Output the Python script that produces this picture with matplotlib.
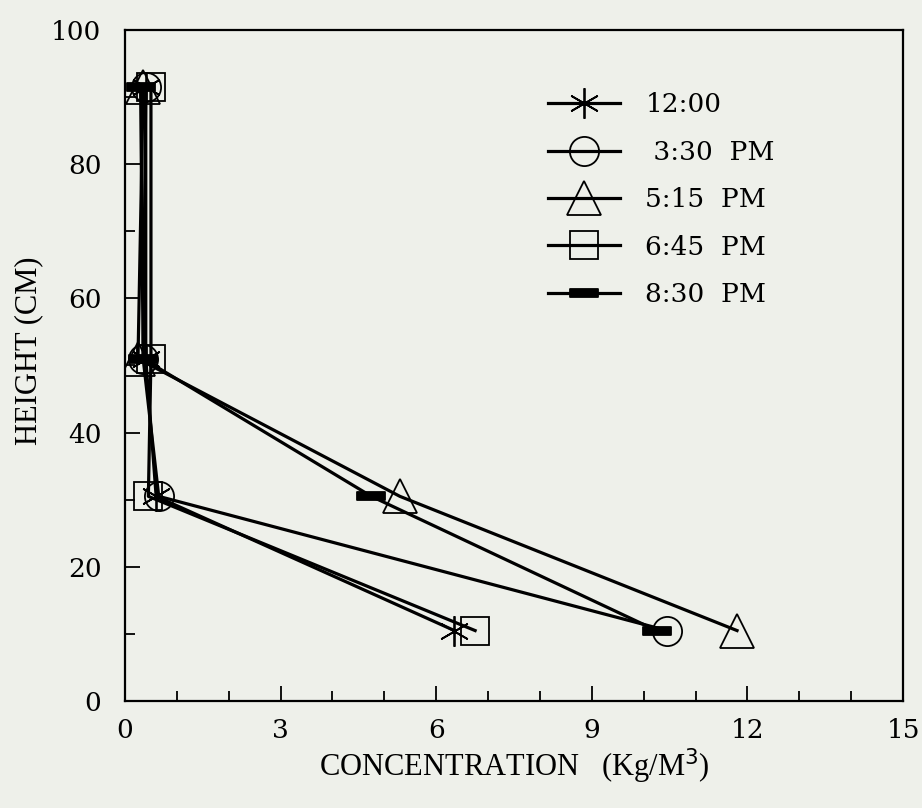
import numpy as np
import matplotlib
matplotlib.use("Agg")
import matplotlib.pyplot as plt
from matplotlib.path import Path

# heights of the sampling points (cm)
heights = [91.5, 51, 30.5, 10.5]

# concentration (Kg/M^3) at each height, per time of day
c_1200 = [0.40, 0.40, 0.60, 6.35]
c_0330 = [0.40, 0.35, 0.65, 10.45]
c_0515 = [0.35, 0.25, 5.30, 11.80]
c_0645 = [0.50, 0.50, 0.45, 6.75]
c_0830 = [0.30, 0.35, 4.75, 10.25]

labels = ["12:00", " 3:30  PM", "5:15  PM", "6:45  PM", "8:30  PM"]

x_ticks = [0, 3, 6, 9, 12, 15]
y_ticks = [0, 20, 40, 60, 80, 100]

bg = "#eef0ea"

# flat black bar used for the 8:30 PM series
bar = Path([(-1, -0.27), (1, -0.27), (1, 0.27), (-1, 0.27), (-1, -0.27)],
           [Path.MOVETO, Path.LINETO, Path.LINETO, Path.LINETO, Path.CLOSEPOLY])

fig = plt.figure(figsize=(9.22, 8.08), dpi=100, facecolor=bg)
ax = fig.add_axes([0.1356, 0.1324, 0.8438, 0.8305], facecolor=bg)

lw = 2.3
common = dict(color="black", lw=lw, mec="black", mew=1.3, mfc="none")
series = [
    (c_1200, dict(marker=(6, 2, 0), ms=22)),
    (c_0330, dict(marker="o", ms=21)),
    (c_0515, dict(marker="^", ms=25)),
    (c_0645, dict(marker="s", ms=20)),
    (c_0830, dict(marker=bar, ms=20, mfc="black")),
]
for (vals, st), lab in zip(series, labels):
    kw = dict(common)
    kw.update(st)
    ax.plot(vals, heights, label=lab, **kw)

ax.set_xlim(0, 15)
ax.set_ylim(0, 100)
ax.set_xticks(x_ticks)
ax.set_yticks(y_ticks)
ax.set_xticks(np.arange(0, 16, 1), minor=True)
ax.set_yticks(np.arange(0, 101, 10), minor=True)
ax.tick_params(which="both", direction="in", top=False, right=False, width=1.3, color="black")
ax.tick_params(which="major", length=11)
ax.tick_params(which="minor", length=7)
ax.tick_params(axis="x", which="major", pad=12)
ax.tick_params(axis="y", which="major", pad=17)
for lab in ax.get_xticklabels() + ax.get_yticklabels():
    lab.set_fontfamily("DejaVu Serif")
    lab.set_fontsize(19)
for sp in ax.spines.values():
    sp.set_linewidth(1.6)

ax.set_xlabel("CONCENTRATION   (Kg/M$^3$)", family="Liberation Serif", fontsize=22, labelpad=3)
ax.set_ylabel("HEIGHT (CM)", family="Liberation Serif", fontsize=22)
ax.yaxis.set_label_coords(-0.105, 0.522)

leg = ax.legend(loc="upper left", bbox_to_anchor=(0.544, 0.907), frameon=False,
                prop=dict(family="DejaVu Serif", size=19), handlelength=2.73,
                handletextpad=0.95, labelspacing=0.85, borderpad=0, borderaxespad=0)

fig.savefig("out.png", dpi=100, facecolor=bg)
